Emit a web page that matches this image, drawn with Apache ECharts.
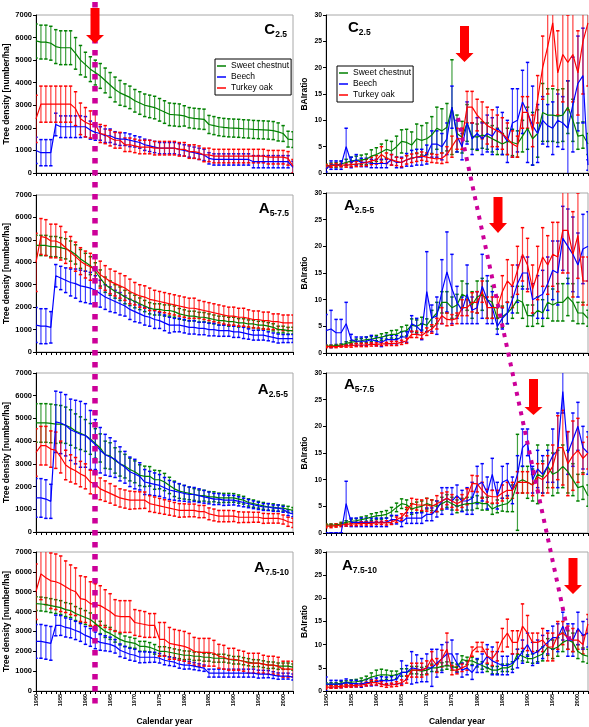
<!DOCTYPE html>
<html>
<head>
<meta charset="utf-8">
<script src="https://cdn.jsdelivr.net/npm/echarts@6/dist/echarts.min.js"></script>
<style>
html,body{margin:0;padding:0;background:#fff;}
#chart{width:589px;height:727px;}
</style>
</head>
<body>
<div id="chart"></div>
<script>
// calendar years (x categories)
const years = [1950,1951,1952,1953,1954,1955,1956,1957,1958,1959,
  1960,1961,1962,1963,1964,1965,1966,1967,1968,1969,
  1970,1971,1972,1973,1974,1975,1976,1977,1978,1979,
  1980,1981,1982,1983,1984,1985,1986,1987,1988,1989,
  1990,1991,1992,1993,1994,1995,1996,1997,1998,1999,
  2000,2001,2002];
const speciesNames = ['Sweet chestnut','Beech','Turkey oak'];
const densTicks = [0,1000,2000,3000,4000,5000,6000,7000];
const baiTicks = [0,5,10,15,20,25,30];

// ---- C2.5 tree density
const dC25Sc = [5850,5800,5800,5750,5600,5550,5550,5550,5300,5000,
  4800,4600,4450,4300,4100,3900,3700,3550,3450,3350,
  3200,3100,3000,2950,2900,2800,2700,2600,2580,2560,
  2530,2450,2420,2400,2380,2150,2100,2050,2020,2000,
  1990,1980,1960,1950,1930,1920,1910,1900,1880,1820,
  1750,1500,1480];
const dC25ScErr = [750,750,750,750,750,750,750,750,700,650,
  550,550,550,550,550,550,550,550,500,500,
  500,500,500,500,500,500,500,500,500,500,
  450,450,450,450,450,400,400,400,400,400,
  400,400,400,400,400,400,400,400,400,400,
  350,350,350];
const dC25Be = [1000,900,900,900,2150,2050,2050,2050,2050,2050,
  2050,1900,1800,1750,1650,1650,1550,1500,1500,1450,
  1400,1350,1250,1200,1150,1100,1100,1100,1100,1050,
  1000,950,900,850,800,650,600,600,600,600,
  600,600,600,600,500,500,500,500,500,500,
  500,500,250];
const dC25BeErr = [580,580,580,580,500,480,480,480,480,480,
  450,400,350,300,300,300,280,280,280,280,
  250,250,250,250,250,250,250,250,250,250,
  250,250,250,250,250,250,250,250,250,250,
  250,250,250,250,270,270,270,270,270,270,
  270,270,270];
const dC25To = [2400,3050,3050,3050,3050,3050,3050,3050,2850,2400,
  2250,2150,2150,1750,1700,1550,1450,1450,1250,1250,
  1200,1150,1150,1150,1100,1100,1100,1100,1100,1050,
  1050,950,950,900,800,800,750,750,750,750,
  750,750,750,750,750,750,750,700,700,700,
  700,650,300];
const dC25ToErr = [1050,800,800,800,800,800,800,800,750,700,
  650,600,600,400,400,350,350,350,300,300,
  300,300,300,300,300,300,300,300,300,300,
  300,300,300,300,300,300,300,300,300,300,
  300,300,300,300,300,300,300,300,300,300,
  300,300,300];

// ---- C2.5 BAI ratio
const bC25Sc = [1.3,1.5,1.5,1.7,2.0,2.3,2.4,2.5,2.6,3.2,
  3.5,4.0,4.5,4.2,5.0,6.0,5.8,5.3,6.5,6.2,
  6.5,7.2,8.5,8.0,8.7,12.5,7.5,6.8,9.5,7.0,
  6.8,7.2,7.0,6.5,6.0,5.5,6.0,5.8,5.5,7.0,
  8.5,6.5,7.5,11.5,11.0,11.0,10.8,11.0,12.5,10.0,
  7.0,7.2,5.5];
const bC25ScErr = [0.4,0.4,0.5,0.5,0.6,0.7,0.8,0.9,1.0,1.2,
  1.3,1.5,1.7,1.8,2.0,2.2,2.5,2.5,2.8,2.8,
  3.0,3.5,4.0,4.2,4.5,9.0,3.5,3.0,3.5,2.5,
  2.5,2.5,2.5,2.5,2.5,2.0,2.5,2.5,2.5,3.0,
  4.0,5.0,4.5,5.5,5.0,5.0,5.0,5.0,5.0,4.0,
  2.5,2.5,2.0];
const bC25Be = [0.8,1.5,1.5,1.5,5.0,2.0,2.5,2.0,2.0,1.8,
  1.8,1.8,1.8,2.5,2.0,2.0,2.5,2.8,3.0,3.0,
  3.5,5.5,5.5,5.0,6.5,12.5,7.0,5.0,9.5,6.5,
  7.5,6.5,7.5,7.0,8.5,7.5,6.0,9.5,10.0,13.5,
  11.5,9.0,7.5,10.0,9.0,8.5,10.0,9.5,8.5,13.0,
  17.0,18.5,1.5];
const bC25BeErr = [0.6,0.8,0.8,0.8,3.5,1.0,1.0,0.8,0.8,0.8,
  0.8,0.8,0.8,1.0,1.0,1.0,1.2,1.5,1.5,1.5,
  1.8,2.5,2.5,2.5,3.0,4.0,3.0,2.5,4.0,3.0,
  3.0,3.0,3.5,3.5,4.0,4.0,4.0,6.5,6.0,6.0,
  9.5,7.5,5.5,4.5,4.0,5.0,5.0,5.0,9.0,9.0,
  9.0,9.0,1.0];
const bC25To = [1.3,1.4,1.5,1.5,1.5,1.6,1.7,1.8,2.0,2.3,
  2.5,3.5,2.8,2.5,2.2,2.0,2.5,2.8,3.0,3.2,
  3.0,2.8,2.7,2.8,3.5,5.0,6.5,6.5,12.5,12.5,
  11.0,10.0,9.0,8.5,8.0,7.5,6.5,5.5,5.0,11.5,
  11.5,8.0,14.0,20.0,24.0,28.5,19.0,22.5,21.0,22.5,
  19.0,25.0,28.5];
const bC25ToErr = [0.3,0.3,0.3,0.3,0.4,0.4,0.5,0.5,0.6,0.7,
  0.8,1.5,1.0,1.0,0.8,0.8,0.8,0.8,0.8,0.8,
  0.8,0.8,0.8,1.0,1.5,2.0,2.0,2.0,3.0,3.0,
  3.0,3.5,3.5,3.5,3.0,3.0,3.0,2.5,2.0,3.0,
  3.0,3.0,4.5,6.0,9.0,12.0,8.0,9.0,9.0,9.0,
  8.0,10.0,12.0];

// ---- A5-7.5 tree density
const dA575Sc = [4750,4750,4750,4700,4700,4650,4600,4500,4350,4150,
  4000,3850,3600,3300,3000,2850,2700,2600,2450,2350,
  2250,2150,2050,1950,1900,1900,1850,1850,1800,1700,
  1650,1600,1600,1550,1550,1500,1450,1400,1400,1350,
  1350,1300,1300,1250,1250,1200,1200,1150,1100,1000,
  1000,950,950];
const dA575ScErr = [450,450,450,450,450,450,450,450,430,420,
  400,400,380,360,340,320,300,300,300,280,
  280,260,250,250,250,250,250,250,250,240,
  230,220,220,220,210,200,200,200,200,200,
  200,190,180,180,170,170,160,160,160,150,
  150,150,150];
const dA575Be = [1200,1150,1150,1100,3400,3300,3200,3100,3050,2950,
  2900,2850,2750,2600,2450,2350,2250,2150,2050,1900,
  1800,1700,1600,1550,1450,1400,1300,1200,1200,1200,
  1150,1100,1100,1050,1050,1000,1000,950,950,950,
  900,900,850,800,750,750,750,700,650,600,
  600,600,600];
const dA575BeErr = [780,780,780,700,500,520,550,600,650,700,
  700,700,650,600,550,550,500,500,450,450,
  450,400,400,400,400,350,350,350,300,300,
  300,300,300,280,280,280,280,250,250,250,
  250,250,250,230,220,220,220,200,200,200,
  180,180,180];
const dA575To = [4000,5150,5100,4950,4950,4850,4650,4450,4250,4050,
  3900,3800,3700,3450,3300,3150,3050,2950,2850,2700,
  2600,2500,2450,2350,2300,2250,2200,2150,2100,2050,
  2000,1950,1950,1900,1850,1800,1750,1700,1650,1600,
  1600,1550,1550,1500,1450,1450,1400,1400,1350,1350,
  1300,1300,1300];
const dA575ToErr = [1300,800,800,750,750,750,700,700,650,600,
  600,600,600,600,550,550,550,550,550,550,
  500,500,500,500,450,450,450,450,450,450,
  450,450,450,400,400,400,400,400,400,400,
  400,400,400,380,380,380,380,380,350,350,
  350,350,350];

// ---- A2.5-5 BAI ratio
const bA255Sc = [1.3,1.3,1.4,1.5,1.8,2.0,2.2,2.3,2.5,2.6,
  2.8,3.0,3.2,3.5,3.5,4.0,4.2,5.2,5.0,5.5,
  5.2,6.5,7.5,9.5,9.5,8.5,9.0,11.0,10.5,9.0,
  10.5,11.0,10.0,9.5,6.5,6.8,7.5,8.5,10.0,9.5,
  7.0,7.0,8.0,7.5,9.5,9.0,9.5,9.5,10.5,9.5,
  7.5,7.5,6.5];
const bA255ScErr = [0.2,0.2,0.2,0.2,0.3,0.3,0.4,0.4,0.5,0.5,
  0.5,0.6,0.6,0.7,0.8,0.9,1.0,1.2,1.2,1.2,
  1.2,1.5,2.0,2.0,2.0,2.0,2.0,2.5,2.5,2.5,
  3.0,3.0,3.5,3.0,2.0,2.0,2.0,2.0,2.5,3.0,
  2.0,2.0,2.5,2.5,3.0,3.0,3.5,3.5,3.5,3.5,
  2.0,2.0,1.5];
const bA255Be = [4.2,4.5,3.8,3.8,5.5,2.5,2.2,2.2,2.2,2.5,
  2.2,2.0,2.5,2.5,2.5,3.0,3.0,5.5,5.0,4.0,
  11.5,6.5,7.0,11.5,15.2,12.0,9.5,8.0,11.0,8.0,
  8.5,12.5,10.0,8.5,5.0,6.5,7.5,10.0,13.0,15.0,
  15.0,10.0,10.5,11.0,13.0,15.5,15.0,21.5,20.0,18.5,
  16.5,19.5,20.0];
const bA255BeErr = [3.0,3.5,2.5,2.5,4.0,1.0,0.8,0.8,0.8,0.8,
  0.8,0.8,0.8,0.8,0.8,1.0,1.0,1.5,1.5,1.5,
  7.5,2.5,3.5,6.0,7.5,6.5,3.0,2.5,5.5,2.5,
  3.0,6.0,4.5,3.0,1.5,2.0,2.0,2.5,3.5,3.0,
  3.0,3.0,4.0,4.5,5.0,5.5,6.0,6.0,7.0,7.0,
  6.0,6.5,6.5];
const bA255To = [1.2,1.2,1.2,1.3,1.3,1.4,1.5,1.5,1.5,1.6,
  1.6,1.7,1.7,1.8,1.8,2.0,2.3,3.5,3.5,3.3,
  4.0,4.5,5.5,7.0,6.3,6.2,6.5,8.5,8.5,9.5,
  9.5,11.5,8.5,8.5,8.5,11.5,13.5,12.5,15.5,18.5,
  16.5,12.0,15.0,18.0,16.5,18.5,18.0,23.0,23.0,18.5,
  22.0,13.5,13.5];
const bA255ToErr = [0.2,0.2,0.2,0.2,0.2,0.3,0.3,0.3,0.3,0.3,
  0.3,0.3,0.3,0.4,0.4,0.4,0.5,0.6,0.6,0.6,
  0.7,0.8,1.0,1.5,1.2,1.0,1.0,1.5,1.5,1.8,
  2.0,2.0,2.0,2.0,2.0,3.0,4.0,4.0,4.5,5.0,
  5.0,4.5,5.0,5.5,5.5,6.0,6.5,8.0,8.0,8.0,
  8.0,4.5,4.5];

// ---- A2.5-5 tree density
const dA255Sc = [4800,4800,4800,4780,4750,4750,4700,4600,4450,4350,
  4250,4100,3900,3700,3400,3350,3150,3000,2900,2750,
  2650,2500,2450,2450,2300,2300,2200,2050,1900,1800,
  1750,1700,1650,1600,1600,1550,1550,1500,1500,1500,
  1500,1450,1400,1300,1250,1200,1150,1100,1100,1050,
  1050,1000,950];
const dA255ScErr = [850,850,850,850,850,820,800,780,750,720,
  700,680,650,620,600,580,560,540,520,500,
  480,460,450,430,420,400,380,360,340,320,
  300,280,260,250,240,230,220,210,200,200,
  190,180,170,160,160,150,150,150,140,140,
  130,130,130];
const dA255Be = [1500,1500,1450,1350,4850,4800,4700,4500,4400,4300,
  4250,4050,3850,3600,3400,3300,3200,3000,2850,2650,
  2550,2450,2200,2150,2100,2050,1950,1850,1800,1750,
  1700,1650,1650,1600,1550,1500,1450,1450,1400,1400,
  1400,1350,1300,1250,1200,1150,1100,1100,1050,1050,
  1000,850,800];
const dA255BeErr = [850,850,850,750,1350,1350,1350,1350,1400,1450,
  1400,1300,1100,1000,900,850,800,750,700,650,
  650,600,550,520,500,480,450,420,400,380,
  350,330,310,300,280,260,250,240,230,220,
  210,200,190,180,170,160,150,150,140,140,
  130,130,130];
const dA255To = [3500,3800,3800,3650,3600,3300,2950,2800,2700,2550,
  2450,2200,2100,1900,1800,1700,1600,1500,1450,1400,
  1400,1400,1400,1250,1200,1150,1100,1050,1000,950,
  950,950,950,900,900,800,750,700,700,700,
  700,650,650,650,650,650,600,600,600,600,
  550,450,400];
const dA255ToErr = [1050,850,850,800,800,700,650,600,580,560,
  550,520,500,480,450,430,420,400,400,400,
  380,370,360,350,340,330,320,310,300,300,
  290,280,280,270,270,260,260,250,250,250,
  240,240,230,230,220,220,220,210,210,210,
  200,200,200];

// ---- A5-7.5 BAI ratio
const bA575Sc = [1.5,1.5,1.5,1.7,2.0,2.2,2.3,2.5,2.7,3.0,
  3.2,3.3,3.5,4.0,4.8,5.5,5.3,4.5,4.8,5.0,
  5.5,5.2,5.0,5.5,6.0,5.5,5.0,5.3,5.5,5.5,
  5.8,5.5,5.5,4.5,5.0,5.3,5.5,6.5,9.5,10.0,
  9.5,9.0,11.0,10.5,12.5,11.0,11.5,12.5,11.5,10.0,
  8.5,8.8,7.0];
const bA575ScErr = [0.2,0.2,0.2,0.3,0.3,0.4,0.4,0.5,0.5,0.6,
  0.6,0.7,0.7,0.8,0.8,0.9,0.9,1.0,1.0,1.0,
  1.0,1.0,1.0,1.2,1.2,1.2,1.2,1.2,1.2,1.2,
  1.2,1.2,1.2,1.0,1.2,1.2,1.5,2.5,9.0,2.5,
  3.0,3.0,5.5,3.0,4.0,4.0,4.0,4.0,4.0,3.0,
  2.5,2.5,2.0];
const bA575Be = [0,0,0,0,5.5,2.0,2.0,2.0,2.0,2.0,
  2.0,2.0,2.0,2.5,2.5,2.0,2.8,2.8,2.8,2.8,
  3.5,3.5,4.5,6.0,6.5,6.0,7.0,6.0,6.0,6.5,
  9.0,9.5,7.5,11.0,7.0,9.5,10.0,8.0,11.0,16.0,
  17.0,10.0,12.0,11.0,12.5,14.5,15.5,26.5,15.0,17.5,
  20.0,16.0,15.0];
const bA575BeErr = [0,0,0,0,4.2,0.8,0.8,0.8,0.8,0.8,
  0.8,0.8,0.8,0.8,0.8,0.8,1.0,1.0,1.0,1.0,
  1.2,1.2,1.5,2.5,2.0,2.5,2.0,2.0,2.5,3.0,
  3.5,3.5,3.0,3.0,2.5,3.0,3.0,2.5,3.5,3.5,
  2.5,2.5,3.5,3.5,3.0,5.0,7.0,4.0,4.0,5.0,
  4.5,4.0,4.0];
const bA575To = [1.3,1.3,1.4,1.5,1.6,1.7,1.7,1.8,1.8,1.8,
  1.9,1.9,1.9,2.0,2.5,3.0,4.0,5.5,5.3,5.2,
  5.3,5.0,5.5,6.0,6.5,6.0,5.5,6.0,6.8,9.3,
  9.2,8.0,7.0,6.8,6.8,7.5,8.0,8.0,9.5,9.5,
  9.5,9.0,10.5,10.0,11.0,12.5,16.0,16.0,13.0,14.5,
  15.5,14.0,15.0];
const bA575ToErr = [0.3,0.3,0.3,0.3,0.3,0.3,0.3,0.3,0.3,0.3,
  0.3,0.3,0.4,0.4,0.5,0.6,0.8,1.0,1.0,1.0,
  1.2,1.2,1.5,1.5,1.2,1.2,1.2,1.2,1.5,1.5,
  1.5,1.5,1.2,1.2,1.2,1.5,1.5,1.5,2.0,2.0,
  2.0,2.0,2.5,3.0,3.5,4.0,6.0,7.0,6.0,6.5,
  6.0,3.0,3.0];

// ---- A7.5-10 tree density
const dA7510Sc = [4400,4380,4350,4300,4250,4200,4100,4050,3900,3800,
  3700,3600,3400,3200,3000,2900,2750,2600,2500,2450,
  2400,2250,2250,2200,2100,2000,2000,1950,1900,1850,
  1800,1800,1750,1750,1700,1700,1650,1650,1650,1600,
  1550,1550,1500,1450,1400,1400,1350,1300,1300,1250,
  1250,1250,1200];
const dA7510ScErr = [350,350,350,350,350,350,350,350,350,350,
  350,330,320,310,300,300,290,280,270,260,
  250,250,250,240,240,230,230,230,220,220,
  220,210,210,200,200,200,200,200,200,190,
  190,190,180,180,180,170,170,170,160,160,
  160,160,160];
const dA7510Be = [2500,2500,2450,2400,3300,3300,3200,3150,3050,2950,
  2800,2700,2550,2450,2400,2350,2250,2050,1950,1850,
  1800,1700,1700,1700,1700,1650,1550,1500,1450,1350,
  1300,1300,1250,1200,1150,900,900,900,900,900,
  900,900,900,900,900,850,850,850,800,750,
  750,750,700];
const dA7510BeErr = [850,850,850,850,520,500,480,470,460,450,
  450,450,420,400,380,360,340,320,300,300,
  300,280,270,260,250,240,230,220,210,200,
  200,190,180,170,160,200,200,200,200,200,
  200,200,200,200,200,200,190,180,170,160,
  150,150,150];
const dA7510To = [5000,5900,5700,5550,5500,5400,5250,5100,5000,4650,
  4600,4400,4350,4300,4150,4000,3800,3750,3750,3750,
  3450,3400,3350,3300,3300,2600,2600,2400,2350,2300,
  2250,2150,2000,1950,1950,1950,1900,1750,1700,1600,
  1600,1550,1500,1400,1400,1400,1350,1300,1300,1250,
  1100,1100,1100];
const dA7510ToErr = [1400,1300,1350,1400,1400,1400,1300,1250,1200,1150,
  1150,1100,1050,1000,950,900,800,800,800,800,
  650,650,650,600,600,850,850,800,750,750,
  750,750,700,700,700,700,650,600,600,550,
  550,500,500,500,500,500,450,450,450,450,
  400,400,400];

// ---- A7.5-10 BAI ratio
const bA7510Sc = [1.5,1.5,1.5,1.7,1.8,1.9,2.0,2.2,2.5,3.0,
  3.3,3.5,3.5,3.3,3.5,4.0,4.0,4.5,4.5,4.3,
  4.5,5.0,5.0,5.3,5.5,5.3,5.0,6.8,6.5,6.5,
  6.0,5.5,5.0,4.5,4.5,5.0,5.0,5.5,8.0,7.5,
  7.0,7.0,7.5,8.0,9.5,9.0,9.5,10.5,11.0,10.5,
  8.5,7.8,7.5];
const bA7510ScErr = [0.3,0.3,0.3,0.4,0.4,0.5,0.5,0.6,0.7,0.9,
  1.2,1.2,1.0,1.0,0.8,0.8,0.8,0.8,0.8,0.8,
  0.8,0.8,0.8,0.8,0.8,0.8,0.8,0.8,0.8,0.8,
  0.8,0.8,0.8,0.8,0.8,0.8,0.8,0.8,1.0,1.0,
  0.8,1.0,1.2,1.5,1.8,2.0,2.0,2.0,2.0,2.0,
  1.5,1.5,1.5];
const bA7510Be = [1.5,1.5,1.5,1.5,1.8,1.6,1.6,1.5,1.8,1.8,
  2.0,2.3,2.2,2.3,2.5,4.0,4.0,5.0,4.8,4.5,
  5.0,5.0,6.0,7.0,8.0,8.0,6.0,4.5,5.0,4.0,
  5.5,6.0,7.5,6.5,6.0,5.5,5.5,6.0,7.0,8.5,
  10.0,8.0,8.5,9.5,10.5,11.5,11.5,14.0,11.0,11.0,
  13.5,12.0,12.5];
const bA7510BeErr = [1.5,0.8,0.8,0.8,0.8,0.7,0.7,0.7,0.7,0.7,
  0.8,0.8,0.8,0.8,1.0,2.5,1.5,3.5,3.0,2.5,
  3.0,4.0,3.0,3.0,2.5,3.0,2.0,1.5,1.5,1.5,
  1.5,2.0,2.5,3.0,2.5,2.0,2.0,2.0,2.0,2.5,
  2.5,2.5,2.5,2.5,2.5,2.5,3.0,3.0,3.5,3.5,
  3.5,3.0,3.0];
const bA7510To = [0.8,0.9,0.9,1.0,1.1,1.1,1.2,1.3,1.5,1.8,
  1.8,1.5,1.2,1.3,1.5,1.8,2.5,4.5,4.5,4.5,
  5.0,7.0,5.5,7.0,9.0,4.5,4.5,5.0,5.5,8.5,
  9.5,9.5,7.5,7.0,8.5,11.0,12.5,10.5,10.5,14.0,
  12.5,10.5,10.5,11.0,9.5,9.5,12.0,12.5,11.5,11.0,
  11.0,10.0,14.5];
const bA7510ToErr = [0.3,0.3,0.3,0.3,0.3,0.3,0.3,0.3,0.4,0.5,
  0.5,0.5,0.4,0.4,0.5,0.6,0.8,1.5,1.5,1.5,
  1.5,1.5,1.5,1.8,3.5,1.0,0.8,0.8,1.0,1.0,
  1.0,1.0,1.5,1.5,2.0,2.5,3.0,2.5,2.5,4.8,
  3.8,2.0,2.0,2.5,3.0,3.0,3.0,2.5,2.5,2.5,
  2.0,2.0,2.0];

// layout of the 8 panels (pixels)
const colors = ['#008000','#0000ff','#ff0000'];
const font = "'Liberation Sans', Arial, sans-serif";
const panels = [
  {box:[36,15,257,158], kind:'dens', title:['C','2.5'], tpos:{right:302,top:23},
   data:[[dC25Sc,dC25ScErr],[dC25Be,dC25BeErr],[dC25To,dC25ToErr]]},
  {box:[326,15,262,158], kind:'bai', title:['C','2.5'], tpos:{left:348,top:21},
   data:[[bC25Sc,bC25ScErr],[bC25Be,bC25BeErr],[bC25To,bC25ToErr]]},
  {box:[36,195,257,157], kind:'dens', title:['A','5-7.5'], tpos:{right:300,top:202},
   data:[[dA575Sc,dA575ScErr],[dA575Be,dA575BeErr],[dA575To,dA575ToErr]]},
  {box:[326,193,262,160], kind:'bai', title:['A','2.5-5'], tpos:{left:344,top:199},
   data:[[bA255Sc,bA255ScErr],[bA255Be,bA255BeErr],[bA255To,bA255ToErr]]},
  {box:[36,373,257,159], kind:'dens', title:['A','2.5-5'], tpos:{right:301,top:383},
   data:[[dA255Sc,dA255ScErr],[dA255Be,dA255BeErr],[dA255To,dA255ToErr]]},
  {box:[326,373,262,160], kind:'bai', title:['A','5-7.5'], tpos:{left:344,top:378},
   data:[[bA575Sc,bA575ScErr],[bA575Be,bA575BeErr],[bA575To,bA575ToErr]]},
  {box:[36,552,257,142], kind:'dens', title:['A','7.5-10'], tpos:{right:300,top:561}, bottom:true,
   data:[[dA7510Sc,dA7510ScErr],[dA7510Be,dA7510BeErr],[dA7510To,dA7510ToErr]]},
  {box:[326,552,262,145], kind:'bai', title:['A','7.5-10'], tpos:{left:342,top:559}, bottom:true,
   data:[[bA7510Sc,bA7510ScErr],[bA7510Be,bA7510BeErr],[bA7510To,bA7510ToErr]]}
];

function renderErr(params, api) {
  const x = api.value(0);
  const lo = api.coord([x, api.value(1)]);
  const hi = api.coord([x, api.value(2)]);
  const c = api.visual('color');
  const cap = 1.7;
  return {
    type: 'group',
    children: [
      {type:'line', shape:{x1:lo[0],y1:lo[1],x2:hi[0],y2:hi[1]}, style:{stroke:c,lineWidth:1.2,opacity:0.75}},
      {type:'line', shape:{x1:lo[0]-cap,y1:lo[1],x2:lo[0]+cap,y2:lo[1]}, style:{stroke:c,lineWidth:1.5}},
      {type:'line', shape:{x1:hi[0]-cap,y1:hi[1],x2:hi[0]+cap,y2:hi[1]}, style:{stroke:c,lineWidth:1.5}}
    ]
  };
}

const grid = [], xAxis = [], yAxis = [], series = [], title = [];
panels.forEach((p, g) => {
  const dens = p.kind === 'dens';
  grid.push({left:p.box[0], top:p.box[1], width:p.box[2], height:p.box[3],
    show:true, borderColor:'#a8a8a8', borderWidth:1, backgroundColor:'transparent'});
  xAxis.push({
    type:'value', gridIndex:g, min:1950, max:2002, interval:1,
    axisLine:{onZero:false, lineStyle:{color:'#000',width:1}},
    axisTick:{show:true, length:3, lineStyle:{color:'#000'}},
    splitLine:{show:false},
    axisLabel:{show:!!p.bottom, rotate:90, fontSize:5.5, fontWeight:'bold', color:'#000', margin:3, fontFamily:font,
      formatter: v => (v % 5 === 0 ? String(v) : '')},
    name: p.bottom ? 'Calendar year' : '', nameLocation:'middle', nameGap:26,
    nameTextStyle:{fontSize:8.5, fontWeight:'bold', color:'#000', fontFamily:font}
  });
  const ticks = dens ? densTicks : baiTicks;
  yAxis.push({
    type:'value', gridIndex:g, min:ticks[0], max:ticks[ticks.length-1], interval:ticks[1]-ticks[0],
    axisLine:{show:true, lineStyle:{color:'#000',width:1}},
    axisTick:{show:true, length:3, lineStyle:{color:'#000'}},
    splitLine:{show:false},
    axisLabel:{fontSize:dens ? 7.5 : 6.8, fontWeight:'bold', color:'#000', margin:4, fontFamily:font,
      formatter: v => String(v)},
    name: dens ? 'Tree density [number/ha]' : 'BAIratio',
    nameLocation:'middle', nameGap: dens ? 25 : 17, nameRotate:90,
    nameTextStyle:{fontSize:8.5, fontWeight:'bold', color:'#000', fontFamily:font}
  });
  title.push(Object.assign({
    text:'{b|' + p.title[0] + '}{s|' + p.title[1] + '}',
    textStyle:{rich:{
      b:{fontSize:15, fontWeight:'bold', color:'#000', fontFamily:font, lineHeight:16, padding:[0,0,3,0]},
      s:{fontSize:8.5, fontWeight:'bold', color:'#000', fontFamily:font, verticalAlign:'bottom', lineHeight:10}
    }},
    padding:0
  }, p.tpos));
  p.data.forEach((pair, k) => {
    const vals = pair[0], errs = pair[1];
    series.push({
      type:'custom', name:speciesNames[k] + ' error', xAxisIndex:g, yAxisIndex:g,
      renderItem:renderErr, clip:true, silent:true,
      itemStyle:{color:colors[k]},
      encode:{x:0, y:[1,2]},
      data: years.map((yr, i) => [yr, vals[i] - errs[i], vals[i] + errs[i]])
    });
    series.push({
      type:'line', name:speciesNames[k], xAxisIndex:g, yAxisIndex:g,
      showSymbol:false, symbol:'none', clip:true, animation:false,
      itemStyle:{color:colors[k]},
      lineStyle:{color:colors[k], width:1.2},
      data: years.map((yr, i) => [yr, vals[i]])
    });
  });
});

// annotations: red arrows and magenta dotted lines
const arrowSpecs = [[95,8,35,43.5],[464.5,26,53,62],[498,197,223,233],[533.5,379,407,415],[573,558,585,594]];
const graphics = [
  {type:'line', z:100, shape:{x1:95,y1:2,x2:95,y2:704}, style:{stroke:'#cc0099', lineWidth:5.5, lineDash:[5.5,6.5]}},
  {type:'line', z:100, shape:{x1:458,y1:118,x2:570,y2:642}, style:{stroke:'#cc0099', lineWidth:4, lineDash:[4,6]}}
];
arrowSpecs.forEach(a => {
  const [cx, top, base, tip] = a;
  graphics.push({type:'polygon', z:101, shape:{points:[
    [cx-4.5,top],[cx+4.5,top],[cx+4.5,base],[cx+9,base],[cx,tip],[cx-9,base],[cx-4.5,base]]},
    style:{fill:'#ff0000'}});
});

const legendBase = {
  orient:'vertical', data:speciesNames, icon:'rect', itemWidth:9, itemHeight:1.5, itemGap:1,
  backgroundColor:'#fff', borderColor:'#000', borderWidth:1, padding:[2,2,2,2],
  selectedMode:false,
  textStyle:{fontSize:8.5, color:'#000', fontFamily:font, lineHeight:10}
};

const chart = echarts.init(document.getElementById('chart'), null, {renderer:'canvas'});
chart.setOption({
  animation:false,
  backgroundColor:'#fff',
  textStyle:{fontFamily:font},
  title:title,
  legend:[Object.assign({left:215, top:59}, legendBase), Object.assign({left:337, top:66}, legendBase)],
  grid:grid, xAxis:xAxis, yAxis:yAxis, series:series,
  graphic:graphics
});
</script>
</body>
</html>
